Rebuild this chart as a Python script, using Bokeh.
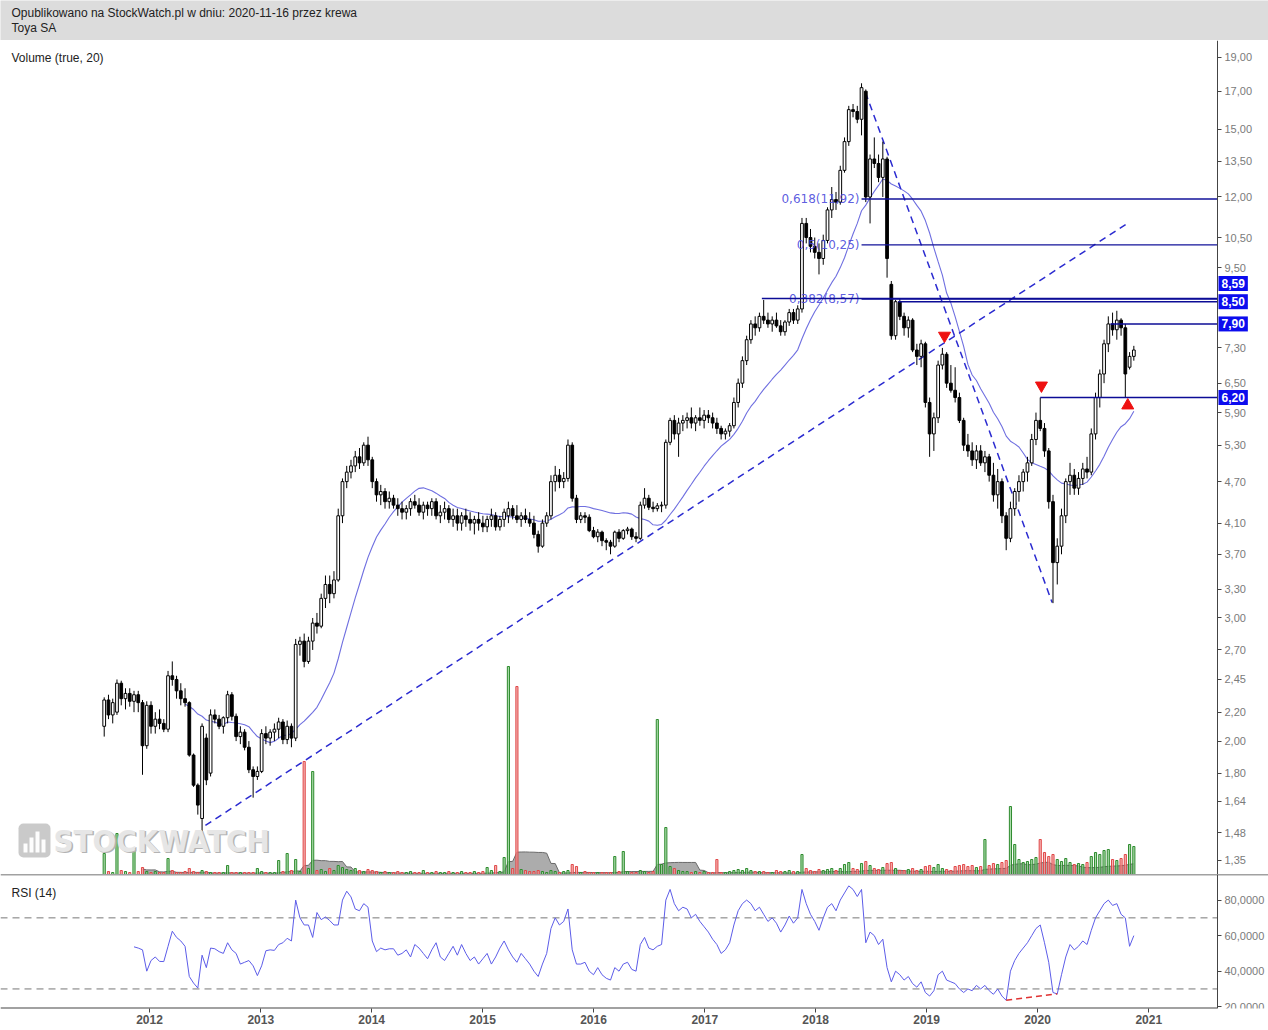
import math
import pandas as pd
from bokeh.plotting import figure
from bokeh.layouts import column
from bokeh.models import (Range1d, FixedTicker, CustomJSTickFormatter, Label, Span,
                          ColumnDataSource, BoxAnnotation, LinearScale)
from bokeh.core.properties import value
from bokeh.embed import file_html
from bokeh.resources import INLINE

# ---------------- data (biweekly candles) ----------------
FIRST_DATE = "2011-08-05"
PERIOD_DAYS = 14

OPEN = [
    2.10, 2.29, 2.18, 2.20, 2.42, 2.30, 2.34, 2.28, 2.33, 2.27,
    1.97, 2.25, 2.10, 2.15, 2.12, 2.08, 2.48, 2.45, 2.36, 2.30,
    2.27, 1.91, 1.73, 1.55, 2.02, 1.80, 2.18, 2.15, 2.10, 2.16,
    2.33, 2.17, 2.03, 2.06, 1.96, 1.82, 1.78, 1.81, 2.05, 2.02,
    2.06, 2.08, 2.13, 2.01, 2.10, 2.02, 2.75, 2.78, 2.60, 2.78,
    2.95, 2.92, 3.20, 3.35, 3.25, 3.40, 4.20, 4.70, 4.85, 4.95,
    5.10, 5.00, 5.30, 5.05, 4.70, 4.50, 4.55, 4.40, 4.45, 4.35,
    4.30, 4.25, 4.30, 4.40, 4.35, 4.25, 4.35, 4.30, 4.40, 4.20,
    4.25, 4.30, 4.15, 4.20, 4.10, 4.20, 4.15, 4.10, 4.15, 4.10,
    4.05, 4.15, 4.20, 4.05, 4.15, 4.20, 4.30, 4.20, 4.15, 4.20,
    4.15, 4.10, 3.95, 3.80, 4.10, 4.20, 4.70, 4.80, 4.70, 4.75,
    5.30, 4.45, 4.15, 4.20, 4.18, 4.00, 3.92, 3.98, 3.87, 3.85,
    3.80, 3.98, 3.90, 4.00, 4.02, 3.92, 3.90, 4.35, 4.45, 4.32,
    4.30, 4.34, 4.35, 5.35, 5.75, 5.50, 5.70, 5.75, 5.80, 5.70,
    5.80, 5.75, 5.85, 5.80, 5.70, 5.60, 5.50, 5.55, 5.65, 6.10,
    6.50, 7.00, 7.50, 7.90, 7.80, 8.10, 8.00, 7.90, 8.00, 7.85,
    7.70, 7.95, 8.20, 8.00, 8.30, 11.00, 10.50, 10.20, 10.00, 9.80,
    10.40, 11.50, 11.90, 11.80, 13.10, 14.40, 16.00, 15.90, 15.50, 17.00,
    12.00, 13.60, 13.40, 12.80, 13.60, 9.00, 7.60, 8.50, 8.10, 7.80,
    8.00, 7.25, 7.10, 7.40, 6.10, 5.50, 5.80, 6.90, 7.15, 6.50,
    6.35, 6.20, 5.75, 5.30, 5.20, 5.05, 5.20, 5.00, 5.10, 4.80,
    4.50, 4.70, 4.20, 3.90, 4.30, 4.55, 4.70, 4.85, 5.00, 5.40,
    5.75, 5.60, 5.20, 4.40, 3.60, 3.80, 4.20, 4.70, 4.80, 4.60,
    4.75, 4.90, 4.85, 5.50, 6.20, 6.70, 7.40, 7.90, 7.75, 8.00,
    7.80, 6.85, 7.10,
]
HIGH = [
    2.31, 2.33, 2.30, 2.45, 2.44, 2.38, 2.38, 2.36, 2.36, 2.29,
    2.28, 2.28, 2.20, 2.22, 2.15, 2.52, 2.60, 2.48, 2.42, 2.38,
    2.28, 1.92, 1.74, 2.12, 2.05, 2.22, 2.22, 2.18, 2.17, 2.36,
    2.35, 2.19, 2.10, 2.08, 2.00, 1.84, 1.84, 2.08, 2.10, 2.08,
    2.12, 2.16, 2.15, 2.14, 2.12, 2.80, 2.82, 2.85, 2.82, 3.00,
    3.05, 3.25, 3.45, 3.45, 3.50, 4.30, 4.75, 4.95, 5.05, 5.20,
    5.25, 5.35, 5.45, 5.10, 4.75, 4.65, 4.60, 4.55, 4.50, 4.45,
    4.40, 4.35, 4.45, 4.50, 4.45, 4.40, 4.40, 4.45, 4.45, 4.35,
    4.40, 4.35, 4.30, 4.30, 4.25, 4.30, 4.25, 4.20, 4.25, 4.20,
    4.20, 4.30, 4.25, 4.20, 4.30, 4.40, 4.35, 4.35, 4.25, 4.30,
    4.25, 4.20, 4.00, 4.15, 4.25, 4.80, 4.95, 4.90, 4.85, 5.40,
    5.35, 4.50, 4.25, 4.25, 4.22, 4.05, 4.02, 4.00, 3.90, 3.88,
    4.00, 4.02, 4.02, 4.05, 4.04, 3.98, 4.40, 4.60, 4.50, 4.40,
    4.38, 4.40, 5.40, 5.80, 5.85, 5.80, 5.85, 5.90, 6.00, 5.85,
    6.00, 5.95, 5.95, 5.90, 5.80, 5.65, 5.60, 5.70, 6.20, 6.60,
    7.10, 7.60, 8.00, 8.10, 8.20, 8.55, 8.20, 8.10, 8.20, 8.00,
    8.00, 8.30, 8.30, 8.40, 11.20, 11.20, 10.80, 10.50, 10.30, 10.60,
    11.60, 12.40, 12.20, 13.30, 14.60, 16.20, 16.30, 16.20, 17.45, 17.10,
    13.80, 14.60, 13.80, 14.40, 13.70, 9.10, 8.55, 8.60, 8.20, 8.10,
    8.05, 7.40, 7.50, 7.45, 6.20, 5.90, 7.00, 7.30, 7.20, 6.90,
    6.85, 6.30, 5.80, 5.50, 5.35, 5.30, 5.30, 5.20, 5.15, 5.00,
    4.90, 4.75, 4.25, 4.40, 4.60, 4.80, 4.90, 5.10, 5.50, 5.90,
    6.20, 5.70, 5.25, 4.50, 3.90, 4.30, 4.75, 5.00, 4.90, 4.85,
    5.00, 5.10, 5.60, 6.30, 6.80, 7.50, 8.10, 8.20, 8.25, 8.05,
    7.90, 7.20, 7.35,
]
LOW = [
    2.03, 2.15, 2.12, 2.18, 2.25, 2.22, 2.24, 2.20, 2.20, 1.79,
    1.95, 2.05, 2.05, 2.08, 2.06, 2.06, 2.40, 2.30, 2.25, 2.24,
    1.90, 1.72, 1.57, 1.48, 1.73, 1.78, 2.12, 2.08, 2.05, 2.12,
    2.14, 2.00, 1.98, 1.94, 1.80, 1.66, 1.76, 1.80, 1.98, 1.97,
    2.00, 2.02, 1.98, 1.98, 1.96, 2.00, 2.65, 2.55, 2.58, 2.70,
    2.85, 2.90, 3.10, 3.15, 3.20, 3.38, 4.10, 4.60, 4.75, 4.85,
    4.90, 4.95, 4.95, 4.60, 4.40, 4.35, 4.30, 4.30, 4.30, 4.20,
    4.15, 4.15, 4.20, 4.30, 4.20, 4.15, 4.20, 4.20, 4.15, 4.10,
    4.15, 4.10, 4.05, 4.00, 4.00, 4.05, 4.00, 3.95, 4.00, 3.98,
    3.98, 4.05, 4.00, 4.00, 4.05, 4.10, 4.15, 4.10, 4.05, 4.10,
    4.05, 3.90, 3.72, 3.78, 4.05, 4.15, 4.55, 4.60, 4.60, 4.70,
    4.40, 4.10, 4.10, 4.10, 3.98, 3.90, 3.85, 3.80, 3.75, 3.70,
    3.78, 3.85, 3.88, 3.95, 3.88, 3.85, 3.88, 4.30, 4.28, 4.25,
    4.26, 4.25, 4.30, 5.30, 5.40, 5.10, 5.55, 5.60, 5.60, 5.55,
    5.65, 5.60, 5.70, 5.60, 5.50, 5.40, 5.40, 5.45, 5.60, 6.00,
    6.40, 6.90, 7.40, 7.60, 7.70, 7.90, 7.80, 7.70, 7.80, 7.60,
    7.60, 7.85, 7.90, 7.90, 8.20, 10.30, 10.00, 9.80, 9.30, 9.60,
    10.30, 11.20, 11.50, 11.70, 13.00, 14.20, 15.60, 15.30, 14.70, 11.80,
    11.00, 13.20, 12.60, 12.00, 9.20, 7.50, 7.50, 8.00, 7.60, 7.55,
    7.20, 6.90, 6.85, 6.00, 5.10, 5.20, 5.70, 6.80, 6.40, 6.30,
    6.10, 5.70, 5.20, 5.10, 4.95, 4.90, 4.95, 4.85, 4.70, 4.40,
    4.30, 4.10, 3.75, 3.85, 4.20, 4.40, 4.55, 4.70, 4.95, 5.30,
    5.55, 5.10, 4.30, 3.15, 3.35, 3.70, 4.10, 4.50, 4.50, 4.50,
    4.65, 4.75, 4.80, 5.40, 6.00, 6.50, 7.20, 7.60, 7.50, 7.60,
    6.20, 6.80, 7.00,
]
CLOSE = [
    2.29, 2.18, 2.27, 2.42, 2.30, 2.34, 2.28, 2.33, 2.27, 1.97,
    2.25, 2.10, 2.15, 2.12, 2.08, 2.48, 2.45, 2.36, 2.30, 2.27,
    1.91, 1.73, 1.62, 2.10, 1.76, 2.18, 2.15, 2.10, 2.16, 2.33,
    2.17, 2.03, 2.06, 1.96, 1.82, 1.78, 1.81, 2.05, 2.02, 2.06,
    2.08, 2.13, 2.01, 2.10, 2.02, 2.75, 2.78, 2.60, 2.78, 2.95,
    2.92, 3.20, 3.35, 3.25, 3.40, 4.20, 4.70, 4.85, 4.95, 5.10,
    5.00, 5.30, 5.05, 4.70, 4.50, 4.55, 4.40, 4.45, 4.35, 4.30,
    4.25, 4.30, 4.40, 4.35, 4.25, 4.35, 4.30, 4.40, 4.20, 4.25,
    4.30, 4.15, 4.20, 4.10, 4.20, 4.15, 4.10, 4.15, 4.10, 4.05,
    4.15, 4.20, 4.05, 4.15, 4.25, 4.30, 4.20, 4.15, 4.20, 4.15,
    4.10, 3.95, 3.80, 4.10, 4.20, 4.70, 4.80, 4.70, 4.75, 5.30,
    4.45, 4.15, 4.20, 4.18, 4.00, 3.92, 3.98, 3.87, 3.85, 3.80,
    3.98, 3.90, 4.00, 4.02, 3.92, 3.90, 4.35, 4.45, 4.32, 4.30,
    4.34, 4.35, 5.35, 5.75, 5.50, 5.70, 5.75, 5.80, 5.70, 5.80,
    5.75, 5.85, 5.80, 5.70, 5.60, 5.50, 5.55, 5.65, 6.10, 6.50,
    7.00, 7.50, 7.90, 7.80, 8.10, 8.00, 7.90, 8.00, 7.85, 7.70,
    7.95, 8.20, 8.00, 8.30, 11.00, 10.50, 10.20, 10.00, 9.80, 10.40,
    11.50, 11.90, 11.80, 13.10, 14.40, 16.00, 15.90, 15.50, 17.20, 12.00,
    13.60, 13.40, 12.80, 13.60, 9.80, 7.60, 8.50, 8.10, 7.80, 8.00,
    7.25, 7.10, 7.40, 6.10, 5.50, 5.80, 6.90, 7.15, 6.50, 6.35,
    6.20, 5.75, 5.30, 5.20, 5.05, 5.20, 5.00, 5.10, 4.80, 4.50,
    4.70, 4.20, 3.90, 4.30, 4.55, 4.70, 4.85, 5.00, 5.40, 5.75,
    5.60, 5.20, 4.40, 3.60, 3.80, 4.20, 4.70, 4.80, 4.60, 4.75,
    4.90, 4.85, 5.50, 6.20, 6.70, 7.40, 7.90, 7.75, 8.00, 7.80,
    6.70, 7.10, 7.25,
]
VOLUME = [  # thousands of shares per candle
    210, 30, 20, 410, 40, 30, 20, 240, 30, 70,
    30, 20, 30, 20, 20, 160, 40, 20, 20, 30,
    60, 30, 20, 40, 30, 20, 20, 20, 20, 90,
    20, 20, 20, 20, 20, 20, 60, 30, 20, 20,
    20, 140, 30, 210, 40, 150, 30, 1130, 60, 1030,
    40, 50, 30, 60, 40, 90, 70, 50, 40, 60,
    40, 30, 50, 40, 30, 20, 30, 20, 20, 30,
    20, 20, 30, 20, 20, 40, 20, 20, 30, 20,
    20, 30, 20, 20, 30, 20, 20, 30, 20, 30,
    70, 40, 90, 30, 170, 2080, 60, 1880, 50, 40,
    30, 30, 40, 30, 20, 40, 30, 20, 30, 40,
    100, 80, 20, 30, 20, 20, 20, 20, 20, 20,
    180, 30, 230, 30, 20, 20, 40, 30, 20, 30,
    1550, 100, 470, 80, 60, 40, 30, 30, 20, 30,
    20, 30, 20, 20, 150, 20, 20, 30, 40, 50,
    40, 60, 40, 30, 30, 30, 20, 20, 40, 30,
    30, 40, 30, 30, 200, 60, 40, 30, 50, 40,
    50, 60, 40, 60, 100, 120, 60, 50, 110, 130,
    90, 60, 50, 70, 110, 120, 60, 40, 40, 50,
    60, 40, 50, 80, 90, 70, 100, 60, 50, 40,
    80, 90, 100, 80, 90, 70, 80, 350, 90, 110,
    100, 120, 140, 680, 300, 150, 120, 130, 150, 170,
    350, 220, 180, 200, 150, 130, 160, 120, 100, 110,
    100, 120, 180, 220, 200, 240, 250, 150, 140, 160,
    200, 300, 280,
]
RSI_START = 7  # first candle with an RSI value
RSI = [
    53.7, 53.0, 52, 40, 46, 48, 45.5, 45.4, 54, 62.5,
    59, 57, 54, 37, 33.3, 30.5, 49, 42, 53, 52.6,
    51, 50, 56, 52, 50, 44, 45, 46, 43, 37.5,
    43, 51.5, 52, 51.7, 55, 56, 58.5, 57, 80, 70,
    66, 66, 59, 73, 69, 70.5, 68.5, 66, 66, 80,
    85, 81.8, 75, 74, 78, 76, 57, 51, 53, 52,
    52.6, 52.6, 49, 50, 52, 48, 55, 53, 50, 47,
    52, 56, 48, 46, 50, 54, 49, 55, 50, 46,
    48, 44, 47, 50, 44, 48, 53, 57, 52, 48,
    45, 50, 47, 44, 40, 37, 44, 50, 64, 70,
    66, 68, 75, 52, 44, 44, 45, 40, 38, 42,
    38, 36, 35, 42, 40, 44, 45, 41, 40, 55,
    59, 53, 52, 54, 55, 80, 86, 78, 74, 76,
    75, 70, 72, 68, 65, 62, 58, 55, 50, 52,
    56, 66, 74, 78, 80, 78, 74, 76, 72, 68,
    70, 67, 62, 66, 71, 67, 70, 86, 78, 72,
    68, 63, 70, 76, 78, 74, 80, 84, 88, 86,
    82, 86, 56, 62, 60, 55, 58, 42, 34, 40,
    38, 35, 37, 33, 31, 34, 28, 26, 29, 38,
    40, 35, 34, 33, 30, 28, 30, 29, 32, 30,
    32, 29, 27, 30, 26, 23.6, 40, 46, 50, 53,
    56, 60, 64, 66, 56, 45, 28, 27.2, 38, 48,
    55, 52, 54, 57, 55, 63, 70, 74, 78, 80,
    77, 78, 72, 70, 54, 60,
]
PRICE_TICKS = [1.35, 1.48, 1.64, 1.80, 2.00, 2.20, 2.45, 2.70, 3.00, 3.30, 3.70, 4.10,
               4.70, 5.30, 5.90, 6.50, 7.30, 9.50, 10.50, 12.00, 13.50, 15.00, 17.00, 19.00]
RSI_TICKS = [20, 40, 60, 80]
YEARS = list(range(2012, 2022))

FIB_RATIOS = [0.618, 0.5, 0.382]
FIB_LEVELS = [11.92, 10.25, 8.57]
FIB_START = "2018-06-01"
LEVELS = [8.59, 8.50, 7.90, 6.20]
LEVEL_STARTS = ["2017-07-08", "2018-09-30", "2020-08-28", "2020-01-10"]
TREND_UP_DATES = ["2012-07-03", "2020-10-17"]
TREND_UP_PRICES = [1.515, 10.96]
TREND_DOWN_DATES = ["2018-06-14", "2020-02-18"]
TREND_DOWN_PRICES = [16.93, 3.157]
SIGNAL_DOWN_DATES = ["2019-03-01", "2020-01-14"]
SIGNAL_DOWN_PRICES = [7.60, 6.45]
SIGNAL_UP_DATES = ["2020-10-24"]
SIGNAL_UP_PRICES = [6.04]
DIV_DATES = ["2019-09-20", "2020-03-06"]
DIV_RSI = [23.6, 27.2]

# ---------------- layout constants (page pixels) ----------------
PAGE_W = 1268
AXIS_X = 1217          # where the price / RSI axis line sits
HEAD_H = 40
P1_H = 834
P2_H = 134
Y_LO, Y_HI = 1.289, 20.09
R_LO, R_HI = 19.0, 94.4
P1_TOP = HEAD_H


def px_date(px):
    return pd.Timestamp("2012-01-01") + pd.Timedelta(days=(px - 149) / 111.0 * 365.25)


def ms(ts):
    return ts.value / 1e6


def px_price(py):
    f = (P1_TOP + P1_H - py) / P1_H
    return math.exp(math.log(Y_LO) + f * (math.log(Y_HI) - math.log(Y_LO)))


def px_rsi(py):
    top = P1_TOP + P1_H
    return R_HI - (py - top) / P2_H * (R_HI - R_LO)


def comma(v, nd=2):
    return f"{v:.{nd}f}".replace(".", ",")


dates = pd.date_range(FIRST_DATE, periods=len(CLOSE), freq=f"{PERIOD_DAYS}D")
xr = Range1d(px_date(0), px_date(PAGE_W))
axis_date = px_date(AXIS_X)

up = [c >= o for o, c in zip(OPEN, CLOSE)]
src = ColumnDataSource(dict(
    date=dates, high=HIGH, low=LOW,
    top=[max(o, c) for o, c in zip(OPEN, CLOSE)],
    bottom=[min(o, c) * (0.997 if o == c else 1.0) for o, c in zip(OPEN, CLOSE)],
    fill=["white" if u else "black" for u in up],
    vol=VOLUME,
    vfill=["#8fd08f" if u else "#f29a9a" for u in up],
    vline=["#2e8b2e" if u else "#e04848" for u in up],
))

FONT = "Liberation Sans"


def style_y_axis(a):
    a.axis_line_color = "#444444"
    a.major_tick_line_color = "#444444"
    a.major_tick_out = 4
    a.major_tick_in = 0
    a.minor_tick_line_color = None
    a.major_label_text_color = "#7a7a7a"
    a.major_label_text_font = FONT
    a.major_label_text_font_size = "11px"
    a.major_label_standoff = 3
    a.fixed_location = ms(axis_date)


# ---------------- header ----------------
head = figure(frame_width=PAGE_W, frame_height=HEAD_H, x_range=Range1d(0, PAGE_W), y_range=Range1d(0, HEAD_H),
              toolbar_location=None, output_backend="svg", min_border=0,
              x_axis_location=None, y_axis_location=None,
              background_fill_color="#dcdcdc", border_fill_color="#dcdcdc", outline_line_color=None)
head.grid.visible = False
head.add_layout(Label(x=11, y=HEAD_H - 12, text="Opublikowano na StockWatch.pl w dniu: 2020-11-16 przez krewa",
                      text_font=FONT, text_font_size="12px", text_color="#222222", text_baseline="middle"))
head.add_layout(Label(x=11, y=HEAD_H - 27, text="Toya SA",
                      text_font=FONT, text_font_size="12px", text_color="#222222", text_baseline="middle"))

# ---------------- price panel ----------------
p1 = figure(frame_width=PAGE_W, frame_height=P1_H, x_range=xr, y_range=Range1d(Y_LO, Y_HI),
            y_axis_type="log", y_axis_location="right", x_axis_location=None,
            toolbar_location=None, output_backend="svg", min_border=0,
            outline_line_color=None, background_fill_color="white", border_fill_color="white")
p1.grid.visible = False
p1.extra_y_ranges = {"vol": Range1d(0, 8340)}
p1.extra_y_scales = {"vol": LinearScale()}

ax = p1.yaxis[0]
ax.ticker = FixedTicker(ticks=PRICE_TICKS)
ax.formatter = CustomJSTickFormatter(code="return tick.toFixed(2).replace('.', ',');")
style_y_axis(ax)

# watermark
p1.add_layout(BoxAnnotation(left=px_date(18), right=px_date(50), top=px_price(823), bottom=px_price(857),
                            fill_color="#c4c4c4", fill_alpha=0.9, line_color=None, border_radius=5))
for bl, bt in [(23, 843), (29, 837), (35, 831), (41, 839)]:
    p1.add_layout(BoxAnnotation(left=px_date(bl), right=px_date(bl + 4), top=px_price(bt), bottom=px_price(852),
                                fill_color="white", fill_alpha=0.95, line_color=None))
for col, dx, dy in [("#b3b3b3", 1.5, -1.5), ("#e6e6e6", 0, 0)]:
    p1.add_layout(Label(x=px_date(53), y=px_price(840), text="STOCKWATCH", text_font="DejaVu Sans Condensed",
                        text_font_style="bold", text_font_size="31px", text_color=col,
                        text_baseline="middle", x_offset=dx, y_offset=dy))

# volume + its 20-week average
vma = pd.Series(VOLUME).rolling(10).sum() / 20.0
p1.varea(x=dates[9:], y1=0, y2=vma[9:], fill_color="#a3a3a3", fill_alpha=0.9, y_range_name="vol")
p1.line(x=dates[9:], y=vma[9:], line_color="#6a6a6a", line_width=1, y_range_name="vol")
vol_w = pd.Timedelta(days=7).total_seconds() * 1000
p1.vbar(x="date", width=vol_w, top="vol", bottom=0, source=src, y_range_name="vol",
        fill_color="vfill", line_color="vline", fill_alpha=0.75, line_width=1)

# moving average of the close (40 weeks)
ma = pd.Series(CLOSE).rolling(20).mean()
p1.line(x=dates[19:], y=ma[19:], line_color="#6f6fe0", line_width=1.1)

# trend lines
p1.line(x=pd.to_datetime(TREND_UP_DATES), y=TREND_UP_PRICES, line_color="#2b2bd0", line_width=1.5,
        line_dash="7 5")
p1.line(x=pd.to_datetime(TREND_DOWN_DATES), y=TREND_DOWN_PRICES, line_color="#2b2bd0", line_width=1.5,
        line_dash="7 5")

# candles
bar_w = pd.Timedelta(days=9).total_seconds() * 1000
p1.segment(x0="date", y0="low", x1="date", y1="high", source=src, line_color="black", line_width=1)
p1.vbar(x="date", width=bar_w, top="top", bottom="bottom", source=src,
        fill_color="fill", line_color="black", line_width=1)

# fibonacci levels
p1.segment(x0=[pd.Timestamp(FIB_START)] * len(FIB_LEVELS), x1=[axis_date] * len(FIB_LEVELS),
           y0=FIB_LEVELS, y1=FIB_LEVELS, line_color="#12129a", line_width=1.3)
fib_txt = [f"{r:g}".replace(".", ",") + "(" + comma(v) + ")" for r, v in zip(FIB_RATIOS, FIB_LEVELS)]
p1.text(x=[pd.Timestamp(FIB_START)] * len(FIB_LEVELS), y=FIB_LEVELS, text=fib_txt,
        text_align="right", text_baseline="middle", x_offset=-2,
        text_font=value("DejaVu Sans"), text_font_size="12px", text_color="#4a4adc", text_alpha=0.9)

# horizontal levels
p1.segment(x0=pd.to_datetime(LEVEL_STARTS), x1=[axis_date] * len(LEVELS), y0=LEVELS, y1=LEVELS,
           line_color="#0c0c96", line_width=1.6)

# signal triangles
p1.scatter(x=pd.to_datetime(SIGNAL_DOWN_DATES), y=SIGNAL_DOWN_PRICES, marker="inverted_triangle",
           size=12, fill_color="#ee1111", line_color="#ee1111")
p1.scatter(x=pd.to_datetime(SIGNAL_UP_DATES), y=SIGNAL_UP_PRICES, marker="triangle",
           size=12, fill_color="#ee1111", line_color="#ee1111")

# level price boxes on the axis
for lv, shift in zip(LEVELS, [15, 0, 0, 0]):
    p1.add_layout(Label(x=px_date(AXIS_X + 1), y=lv, y_offset=shift, text=comma(lv),
                        text_font=FONT, text_font_style="bold", text_font_size="12px", text_color="white",
                        background_fill_color="#0c0cee", text_baseline="middle", text_align="left",
                        padding=3))

p1.add_layout(Label(x=px_date(11), y=px_price(57), text="Volume (true, 20)", text_font=FONT,
                    text_font_size="12px", text_color="#222222", text_baseline="middle"))

# ---------------- RSI panel ----------------
p2 = figure(frame_width=PAGE_W, frame_height=P2_H, x_range=xr, y_range=Range1d(R_LO, R_HI),
            x_axis_type="datetime", y_axis_location="right",
            toolbar_location=None, output_backend="svg", min_border=0,
            outline_line_color=None, background_fill_color="white", border_fill_color="white")
p2.grid.visible = False

ay = p2.yaxis[0]
ay.ticker = FixedTicker(ticks=RSI_TICKS)
ay.formatter = CustomJSTickFormatter(code="return tick.toFixed(4).replace('.', ',');")
style_y_axis(ay)

axx = p2.xaxis[0]
axx.ticker = FixedTicker(ticks=[pd.Timestamp(f"{y}-01-01").value // 10**6 for y in YEARS])
axx.formatter = CustomJSTickFormatter(code="return String(new Date(tick).getUTCFullYear());")
axx.axis_line_color = None
axx.major_tick_line_color = "#444444"
axx.major_tick_out = 4
axx.major_tick_in = 0
axx.minor_tick_line_color = None
axx.major_label_text_color = "#555555"
axx.major_label_text_font = FONT
axx.major_label_text_font_style = "bold"
axx.major_label_text_font_size = "12px"
axx.major_label_standoff = 2

p2.add_layout(Span(location=R_HI, dimension="width", line_color="#444444", line_width=1.5))
p2.segment(x0=[px_date(0)] * 2, x1=[axis_date] * 2, y0=[70, 30], y1=[70, 30],
           line_color="#777777", line_width=1, line_dash="7 5")
p2.segment(x0=[px_date(0)], x1=[axis_date], y0=[R_LO], y1=[R_LO], line_color="#444444", line_width=2)
p2.line(x=dates[RSI_START:], y=RSI, line_color="#5c5ce8", line_width=1)
p2.line(x=pd.to_datetime(DIV_DATES), y=DIV_RSI, line_color="#e03333", line_width=1.5, line_dash="6 4")
p2.add_layout(Label(x=px_date(11), y=px_rsi(P1_TOP + P1_H + 18), text="RSI (14)", text_font=FONT,
                    text_font_size="12px", text_color="#222222", text_baseline="middle"))

layout = column(head, p1, p2, spacing=0)
open("out.html", "w").write(file_html(layout, INLINE))
